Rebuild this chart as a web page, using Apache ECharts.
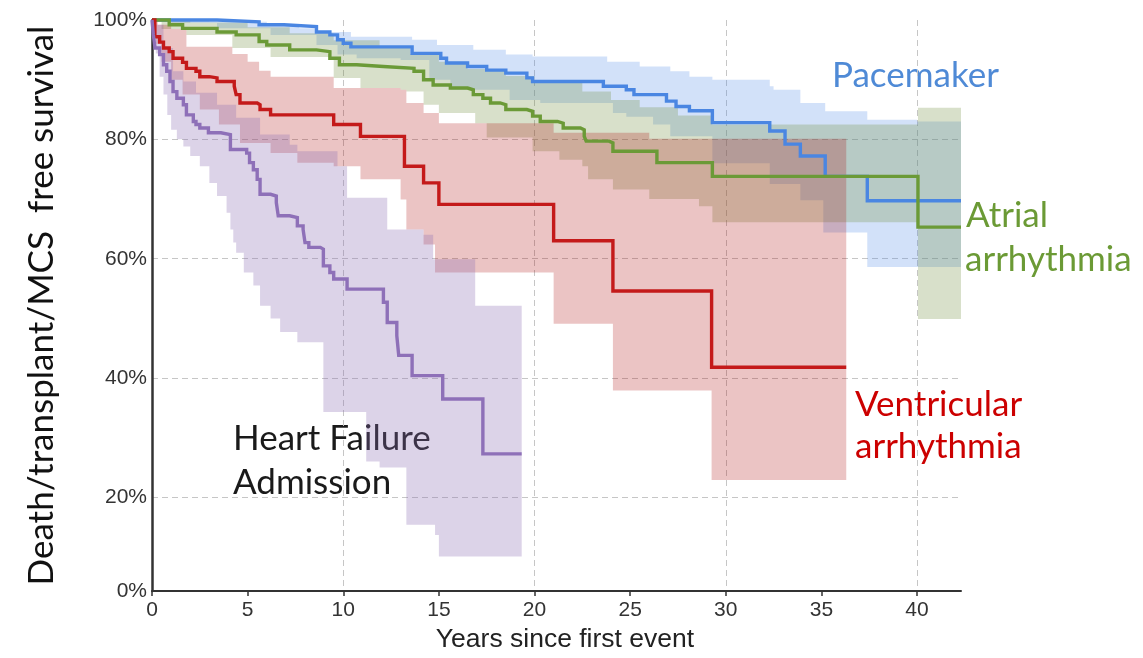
<!DOCTYPE html>
<html><head><meta charset="utf-8">
<script src="https://cdn.jsdelivr.net/npm/echarts@6/dist/echarts.min.js"></script>
<style>html,body{margin:0;padding:0;background:#fff}#c{width:1143px;height:658px}</style>
</head><body><div id="c"></div>
<script>
// ---------- axis settings ----------
const X_MAX = 42.3;
const Y_MIN = 4.3;
const xTickValues = [0, 5, 10, 15, 20, 25, 30, 35, 40];
const yTickValues = [4.3, 20, 40, 60, 80, 100];
const yTickLabels = ['0%', '20%', '40%', '60%', '80%', '100%'];

// ---------- Pacemaker ----------
const pmX = [0, 3.4, 5.6, 6.9, 8.6, 9.3, 9.7, 10.0, 10.4, 13.6, 15.1, 15.4, 16.5, 17.5, 18.5, 19.6, 19.9, 23.6, 24.8, 25.2, 26.9, 27.4, 28.1, 29.3, 32.3, 33.1, 33.9, 35.2, 37.4, 42.3];
const pmY = [100, 99.7, 99.2, 98.9, 98.0, 97.5, 96.7, 96.1, 95.5, 94.4, 93.6, 92.8, 92.2, 91.6, 91.1, 90.3, 89.7, 88.9, 88.3, 87.5, 86.4, 85.5, 84.8, 82.8, 81.4, 79.2, 77.2, 73.8, 69.7, 69.7];
const pmUpX = [0, 3, 6, 7.7, 8.6, 10.4, 13.6, 14.9, 16.8, 18.5, 19.9, 23.8, 25.5, 27.1, 28.1, 29.3, 32.3, 32.5, 33.9, 35.2, 37.4, 40, 42.3];
const pmUpY = [100, 99.7, 99.2, 98.6, 98.0, 97.2, 96.7, 95.8, 95.0, 94.2, 93.9, 93.0, 92.2, 91.4, 90.5, 90.0, 88.9, 88.3, 86.1, 84.7, 83.3, 83.0, 83.0];
const pmLoX = [0, 1, 3.4, 6.2, 8.6, 9.7, 10.7, 13.0, 14.5, 15.6, 18.7, 20.3, 24.1, 24.8, 26.2, 27.1, 29.3, 32.3, 33.9, 35.1, 37.4, 42.3];
const pmLoY = [100, 99.5, 98.6, 97.5, 95.8, 94.2, 93.6, 93.3, 90.0, 88.3, 86.6, 86.1, 84.4, 83.8, 82.5, 80.5, 76.0, 72.5, 69.8, 64.4, 58.6, 58.6];

// ---------- Atrial arrhythmia ----------
const afX = [0, 0.9, 1.6, 3.4, 4.4, 5.6, 6.0, 7.2, 8.6, 9.3, 9.8, 10.7, 12.1, 13.7, 14.2, 14.7, 15.6, 16.5, 16.8, 17.3, 17.7, 18.2, 18.5, 19.6, 19.9, 20.3, 21.2, 21.5, 22.4, 22.6, 22.7, 23.9, 24.1, 26.4, 29.3, 40.05, 42.3];
const afY = [100, 99.2, 98.6, 98.0, 97.5, 96.4, 95.8, 95.0, 94.7, 93.6, 92.5, 92.2, 91.9, 91.4, 90.0, 89.1, 88.6, 88.3, 87.5, 86.9, 86.1, 85.8, 85.0, 84.7, 83.9, 83.0, 82.7, 81.9, 81.6, 80.5, 79.7, 79.4, 78.0, 76.1, 73.8, 65.3, 65.3];
const afUpX = [0, 2, 5, 7.2, 9.5, 11.9, 13.5, 15, 16.5, 18.5, 20, 22.5, 24, 25.5, 27.5, 29.3, 40.05, 42.3];
const afUpY = [100, 99.6, 98.8, 97.8, 96.6, 95.3, 94.3, 93.0, 91.8, 90.6, 89.5, 88.0, 86.6, 85.4, 84.0, 82.5, 85.3, 85.3];
const afLoX = [0, 0.5, 1.8, 4.2, 6.2, 9.5, 10.9, 13.0, 13.3, 14.2, 15.0, 16.9, 17.5, 19.9, 21.3, 22.5, 22.8, 24.1, 26.0, 28.6, 29.3, 40.05, 42.3];
const afLoY = [100, 98.5, 97.5, 95.3, 93.8, 90.3, 88.6, 88.3, 88.0, 85.8, 84.4, 82.7, 80.3, 78.0, 76.6, 75.5, 73.3, 71.6, 70.0, 68.8, 66.1, 49.9, 49.9];

// ---------- Ventricular arrhythmia ----------
const vaX = [0, 0.15, 0.4, 0.6, 0.9, 1.1, 1.6, 1.8, 2.3, 2.5, 3.0, 3.4, 4.3, 4.4, 4.6, 5.5, 5.65, 6.2, 9.5, 10.9, 13.2, 14.2, 15.0, 21.0, 24.1, 29.26, 36.3];
const vaY = [100, 97.2, 96.3, 95.3, 94.7, 93.6, 92.9, 91.9, 91.4, 90.5, 90.3, 89.7, 88.9, 87.5, 86.1, 85.8, 85.0, 84.1, 82.5, 80.5, 75.5, 72.7, 69.1, 63.0, 54.6, 41.8, 41.8];
const vaUpX = [0, 0.3, 1.0, 1.8, 4.2, 5.0, 5.6, 6.2, 9.5, 13.0, 13.3, 14.2, 15.0, 21.0, 26.0, 36.3];
const vaUpY = [100, 99.2, 98.5, 95.5, 94.3, 93.0, 91.5, 90.5, 88.6, 88.3, 86.1, 84.4, 82.7, 81.1, 80.1, 80.1];
const vaLoX = [0, 0.2, 0.5, 1.0, 1.6, 2.5, 3.5, 4.6, 6.2, 7.6, 9.5, 10.9, 13.0, 13.3, 14.2, 14.8, 21.0, 24.1, 29.26, 36.3];
const vaLoY = [100, 96, 93, 90, 87.5, 85, 82.5, 79.4, 77.7, 76.1, 75.5, 73.3, 69.9, 64.9, 62.4, 57.7, 49.1, 37.9, 22.9, 22.9];

// ---------- Heart failure admission ----------
const hfX = [0, 0.07, 0.16, 0.4, 0.6, 0.77, 0.94, 1.1, 1.3, 1.64, 1.8, 2.16, 2.3, 2.5, 2.95, 3.6, 4.1, 4.95, 5.1, 5.3, 5.5, 5.65, 6.2, 6.5, 6.6, 7.2, 7.6, 7.9, 8.0, 8.2, 8.8, 8.96, 9.3, 9.5, 10.2, 12.1, 12.3, 12.8, 12.9, 13.6, 15.2, 17.3, 19.33];
const hfY = [100, 97.5, 95.3, 94.2, 92.5, 91.4, 89.7, 88.0, 86.9, 85.8, 84.1, 83.0, 82.5, 81.9, 81.1, 80.8, 78.3, 77.7, 76.1, 74.9, 73.3, 70.8, 70.5, 69.4, 67.2, 66.9, 65.5, 64.9, 62.7, 61.9, 61.6, 58.8, 57.7, 56.6, 54.9, 52.7, 49.3, 47.1, 43.8, 40.4, 36.5, 27.3, 27.3];
const hfUpX = [0, 0.1, 0.6, 1.1, 1.64, 2.3, 3.4, 4.4, 5.65, 7.2, 7.6, 9.7, 10.2, 12.3, 14.2, 14.7, 16.9, 19.33];
const hfUpY = [100, 99.2, 95.3, 91.4, 89.7, 87.8, 85.8, 83.6, 80.8, 79.1, 78.0, 75.5, 70.2, 64.9, 64.0, 59.9, 52.1, 52.1];
const hfLoX = [0, 0.1, 0.2, 0.4, 0.6, 0.8, 1.0, 1.3, 1.64, 2.0, 2.5, 3.0, 3.4, 3.9, 4.1, 4.25, 4.4, 4.8, 5.3, 5.65, 6.2, 6.7, 7.6, 8.96, 11.2, 11.9, 13.3, 14.8, 15.0, 19.33];
const hfLoY = [100, 96.5, 94.4, 90.5, 87.5, 84.1, 81.6, 80.0, 78.8, 77.2, 75.5, 72.7, 70.5, 67.7, 64.9, 62.7, 61.0, 57.7, 55.5, 52.1, 50.0, 47.7, 46.0, 34.3, 26.0, 25.0, 15.4, 13.7, 10.1, 10.1];

// ---------- helpers ----------
function pairs(xs, ys) { return xs.map((x, i) => [x, ys[i]]); }
function stepPts(xs, ys) {
  const p = [];
  for (let i = 0; i < xs.length; i++) {
    if (i > 0) p.push([xs[i], ys[i - 1]]);
    p.push([xs[i], ys[i]]);
  }
  return p;
}
function bandSeries(name, upX, upY, loX, loY, color) {
  const poly = stepPts(upX, upY).concat(stepPts(loX, loY).reverse());
  return {
    type: 'custom', name: name, coordinateSystem: 'cartesian2d', z: 1, silent: true,
    data: [[0, 50]],
    renderItem: function (params, api) {
      return { type: 'polygon', shape: { points: poly.map(p => api.coord(p)) }, style: { fill: color } };
    }
  };
}
function lineSeries(name, xs, ys, color) {
  return {
    type: 'line', name: name, step: 'end', data: pairs(xs, ys), showSymbol: false, clip: false, z: 3,
    lineStyle: { color: color, width: 3.4, join: 'miter' }, silent: true
  };
}

const gridLineStyle = { type: [6, 4], color: '#c6c6c6', width: 1 };
const labelFont = 'Lato, "Noto Sans", sans-serif';
const annFont = '35px ' + labelFont;

const chart = echarts.init(document.getElementById('c'), null, { renderer: 'canvas' });
chart.setOption({
  animation: false,
  backgroundColor: '#ffffff',
  grid: { left: 152, right: 182, top: 20, bottom: 65, containLabel: false },
  xAxis: [{
    type: 'value', min: 0, max: X_MAX,
    axisLine: { show: true, lineStyle: { color: '#333', width: 2 } },
    axisTick: { show: true, customValues: xTickValues, length: 5, lineStyle: { color: '#333', width: 1.5 } },
    axisLabel: { customValues: xTickValues, fontSize: 21, color: '#333', margin: 9, fontFamily: '"Liberation Sans", Arial, sans-serif' },
    splitLine: { show: false },
    name: 'Years since first event', nameLocation: 'middle', nameGap: 28,
    nameTextStyle: { fontSize: 26.5, color: '#222', fontFamily: '"Liberation Sans", Arial, sans-serif', padding: [0, 0, 0, 17] }
  }, {
    type: 'value', min: 0, max: X_MAX, interval: 10, position: 'bottom',
    axisLine: { show: false }, axisTick: { show: false }, axisLabel: { show: false },
    splitLine: { show: true, showMinLine: false, showMaxLine: false, lineStyle: gridLineStyle }
  }],
  yAxis: {
    type: 'value', min: Y_MIN, max: 100,
    axisLine: { show: true, lineStyle: { color: '#333', width: 2.5 } },
    axisTick: { show: false, customValues: yTickValues },
    axisLabel: {
      customValues: yTickValues, fontSize: 21, color: '#333', margin: 5,
      fontFamily: '"Liberation Sans", Arial, sans-serif',
      formatter: function (v) { const i = yTickValues.indexOf(v); return i >= 0 ? yTickLabels[i] : ''; }
    },
    splitLine: { show: true, showMinLine: false, showMaxLine: false, lineStyle: gridLineStyle },
    name: 'Death/transplant/MCS  free survival', nameLocation: 'middle', nameRotate: 90, nameGap: 93,
    nameTextStyle: { fontSize: 35, color: '#111', fontFamily: labelFont }
  },
  graphic: [
    { type: 'text', z: 0, x: 832, y: 76, style: { text: 'Pacemaker', font: annFont, fill: '#4f8ad6', verticalAlign: 'middle' } },
    { type: 'text', z: 0, x: 966, y: 216, style: { text: 'Atrial', font: annFont, fill: '#6b9a35', verticalAlign: 'middle' } },
    { type: 'text', z: 0, x: 965, y: 260, style: { text: 'arrhythmia', font: annFont, fill: '#6b9a35', verticalAlign: 'middle' } },
    { type: 'text', z: 0, x: 855, y: 405, style: { text: 'Ventricular', font: annFont, fill: '#cc0000', verticalAlign: 'middle' } },
    { type: 'text', z: 0, x: 855, y: 447, style: { text: 'arrhythmia', font: annFont, fill: '#cc0000', verticalAlign: 'middle' } },
    { type: 'text', z: 0, x: 233, y: 439, style: { text: 'Heart Failure', font: annFont, fill: '#1a1a1a', verticalAlign: 'middle' } },
    { type: 'text', z: 0, x: 233, y: 483, style: { text: 'Admission', font: annFont, fill: '#1a1a1a', verticalAlign: 'middle' } }
  ],
  series: [
    bandSeries('Pacemaker CI', pmUpX, pmUpY, pmLoX, pmLoY, 'rgba(74,134,232,0.25)'),
    bandSeries('Atrial arrhythmia CI', afUpX, afUpY, afLoX, afLoY, 'rgba(110,140,60,0.27)'),
    bandSeries('Ventricular arrhythmia CI', vaUpX, vaUpY, vaLoX, vaLoY, 'rgba(170,10,10,0.24)'),
    bandSeries('Heart Failure Admission CI', hfUpX, hfUpY, hfLoX, hfLoY, 'rgba(140,110,180,0.30)'),
    lineSeries('Pacemaker', pmX, pmY, '#4a86e2'),
    lineSeries('Atrial arrhythmia', afX, afY, '#6b9a37'),
    lineSeries('Ventricular arrhythmia', vaX, vaY, '#c41a1a'),
    lineSeries('Heart Failure Admission', hfX, hfY, '#8e70b8')
  ]
});
</script>
</body></html>
